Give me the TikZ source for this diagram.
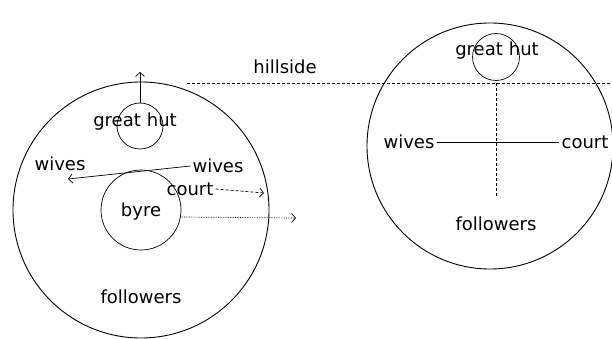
\documentclass[tikz,border=0pt]{standalone}
\usepackage{fontspec}
\setmainfont{DejaVu Sans}
\usetikzlibrary{arrows.meta,positioning}

\begin{document}
\begin{tikzpicture}[
    x=1pt, y=-1pt,
    ring/.style={circle, draw, line width=0.9pt, inner sep=0pt},
    lbl/.style={font=\fontsize{18}{21}\selectfont, inner sep=2pt},
    arr/.style={-{Straight Barb[length=4pt,width=9pt]}, line width=0.7pt},
    axis/.style={line width=0.6pt, densely dashed}
]
\useasboundingbox (0,0) rectangle (612,339);
% left kraal
\node[ring, minimum size=256pt] (yard) at (141,210) {};
\node[ring, minimum size=46pt, line width=0.7pt] (gh) at (140,126) {};
\node[ring, minimum size=80pt, line width=0.7pt] (byre) at (141,210) {};
\node[lbl] at (135,122) {great\hspace{6pt}hut};
\node[lbl] at (141,212) {byre};
\node[lbl] (wl) at (60,164) {wives};
\node[lbl] (wr) at (218,166) {wives};
\node[lbl] (ct) at (190,189) {court};
\node[lbl] at (141,297) {followers};
\coordinate (up) at (140,72);
\coordinate (wend) at (68,179);
\coordinate (cend) at (264,193);
\coordinate (bend) at (296,218);
\draw[arr] (gh.north) -- (up);
\draw[arr] (wr.west) -- (wend);
\draw[arr, densely dashed] (ct.east) -- (cend);
\draw[arr, densely dotted] (byre.-10) -- (bend);
% hillside
\coordinate (hl) at (187,83);
\coordinate (hr) at (612,83);
\draw[axis] (hl) -- (hr);
\node[lbl] at (285,67) {hillside};
% right kraal
\node[ring, minimum size=246pt] (yard2) at (490,146) {};
\node[ring, minimum size=47pt, line width=0.7pt] (gh2) at (496,57) {};
\node[lbl] at (497,51) {great\hspace{6pt}hut};
\node[lbl] (w2) at (409,142) {wives};
\node[lbl] (c2) at (585,142) {court};
\node[lbl] at (496,224) {followers};
\coordinate (top2) at (496,83);
\coordinate (bot2) at (496,198);
\draw[axis] (top2) -- (bot2);
\draw[line width=0.7pt] (w2.east) -- (c2.west);
\end{tikzpicture}
\end{document}
